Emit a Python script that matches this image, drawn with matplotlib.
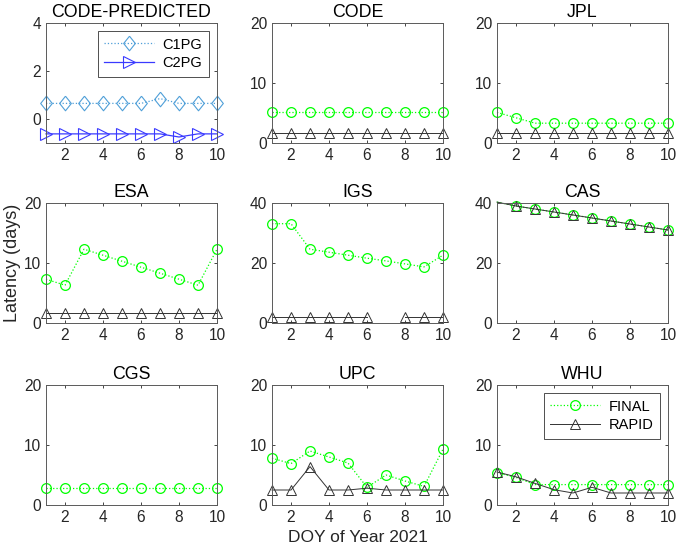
import numpy as np
import matplotlib.pyplot as plt

plt.rcParams['font.family'] = ['Liberation Sans', 'DejaVu Sans']

# DOY of year 2021
doy = np.arange(1, 11)

# CODE predicted products
c1pg = [0.65, 0.65, 0.65, 0.65, 0.65, 0.65, 0.85, 0.65, 0.65, 0.65]
c2pg = [-0.62, -0.62, -0.62, -0.62, -0.62, -0.62, -0.62, -0.75, -0.62, -0.62]

# latency (days) of final / rapid products
code_final = [5.1, 5.1, 5.1, 5.1, 5.1, 5.1, 5.1, 5.1, 5.1, 5.1]
code_rapid = [1.6, 1.6, 1.6, 1.6, 1.6, 1.6, 1.6, 1.6, 1.6, 1.6]
jpl_final = [5.1, 4.2, 3.3, 3.3, 3.3, 3.3, 3.3, 3.3, 3.3, 3.3]
jpl_rapid = [1.6, 1.6, 1.6, 1.6, 1.6, 1.6, 1.6, 1.6, 1.6, 1.6]
esa_final = [7.3, 6.3, 12.3, 11.3, 10.3, 9.3, 8.3, 7.3, 6.3, 12.3]
esa_rapid = [1.7, 1.7, 1.7, 1.7, 1.7, 1.7, 1.7, 1.7, 1.7, 1.7]
igs_final = [33.1, 33.1, 24.6, 23.6, 22.6, 21.6, 20.7, 19.7, 18.7, 22.6]
igs_rapid = [2.0, 2.0, 2.0, 2.0, 2.0, 2.0, np.nan, 2.0, 2.0, 2.0]
cas_final = [40.3, 39, 38, 37, 36, 35, 34, 33, 32, 31]
cas_rapid = [40.3, 39, 38, 37, 36, 35, 34, 33, 32, 31]
cgs_final = [2.8, 2.8, 2.8, 2.8, 2.8, 2.8, 2.8, 2.8, 2.8, 2.8]
cgs_rapid = [np.nan] * 10
upc_final = [7.8, 6.9, 9.0, 8.0, 7.0, 2.95, 5.0, 4.0, 3.1, 9.3]
upc_rapid = [2.5, 2.5, 6.4, 2.5, 2.5, 2.8, 2.5, 2.5, 2.5, 2.5]
whu_final = [5.4, 4.6, 3.4, 3.4, 3.4, 3.4, 3.4, 3.4, 3.4, 3.4]
whu_rapid = [5.5, 4.7, 3.6, 2.55, 2.0, 2.95, 2.0, 2.0, 2.0, 2.0]

centers = ['CODE', 'JPL', 'ESA', 'IGS', 'CAS', 'CGS', 'UPC', 'WHU']
finals = [code_final, jpl_final, esa_final, igs_final, cas_final, cgs_final, upc_final, whu_final]
rapids = [code_rapid, jpl_rapid, esa_rapid, igs_rapid, cas_rapid, cgs_rapid, upc_rapid, whu_rapid]
ymaxs = [20, 20, 20, 40, 40, 20, 20, 20]

W, H = 680, 554
fig = plt.figure(figsize=(W / 100, H / 100), dpi=100)

lefts = [46, 272, 497]
tops = [23, 203, 385]
aw, ah = 171, 120

grey = '#262626'
# MATLAB-like diamond (a bit narrower than tall)
diamond = [(0, 1), (0.8, 0), (0, -1), (-0.8, 0), (0, 1)]


def make_axes(row, col):
    ax = fig.add_axes([lefts[col] / W, 1 - (tops[row] + ah) / H, aw / W, ah / H])
    ax.tick_params(direction='in', length=2.5, width=0.6, top=True, right=True,
                   labelsize=11.2, colors=grey, pad=3.5)
    for s in ax.spines.values():
        s.set_color('#5a5a5a')
        s.set_linewidth(0.7)
    ax.set_xlim(1, 10)
    ax.set_xticks([2, 4, 6, 8, 10])
    return ax


def series(ax, x, y, lo, hi, **kw):
    y = np.asarray(y, dtype=float)
    keep = [i for i in range(len(y)) if not np.isnan(y[i]) and lo <= y[i] <= hi]
    return ax.plot(x, y, markevery=keep, clip_on=False, **kw)[0]


def add_legend(ax):
    leg = ax.legend(loc='upper right', fontsize=10.5, handlelength=3.4,
                    borderaxespad=0.55, fancybox=False, framealpha=1,
                    edgecolor='#333333', borderpad=0.45, labelspacing=0.3,
                    handletextpad=0.6)
    leg.get_frame().set_linewidth(0.6)


# CODE-PREDICTED panel
ax = make_axes(0, 0)
ax.set_ylim(-1, 4)
ax.set_yticks([0, 2, 4])
series(ax, doy, c1pg, -1, 4, color='#4f9fd8', ls=':', lw=0.9, marker=diamond,
       ms=10.5, mfc='none', mew=0.8, label='C1PG')
series(ax, doy, c2pg, -1, 4, color='#3a3aff', ls='-', lw=0.9, marker='>',
       ms=8, mfc='none', mew=0.8, label='C2PG')
ax.set_title('CODE-PREDICTED', fontsize=12.8, pad=4.5)
add_legend(ax)

positions = [(0, 1), (0, 2), (1, 0), (1, 1), (1, 2), (2, 0), (2, 1), (2, 2)]
for name, fin, rap, ym, (r, c) in zip(centers, finals, rapids, ymaxs, positions):
    ax = make_axes(r, c)
    ax.set_ylim(0, ym)
    ax.set_yticks([0, ym / 2, ym])
    series(ax, doy, fin, 0, ym, color='#00ff00', ls=':', lw=0.9, marker='o',
           ms=7, mfc='none', mew=0.9, label='FINAL')
    series(ax, doy, rap, 0, ym, color='#333333', ls='-', lw=0.7, marker='^',
           ms=7.5, mfc='none', mew=0.7, label='RAPID')
    ax.set_title(name, fontsize=12.8, pad=4.5)
    if r == 1 and c == 0:
        ax.set_ylabel('Latency (days)', fontsize=13, color=grey, labelpad=2)
    if r == 2 and c == 1:
        ax.set_xlabel('DOY of Year 2021', fontsize=12.5, color=grey, labelpad=4)
    if name == 'WHU':
        add_legend(ax)

fig.savefig('out.png', dpi=100)
